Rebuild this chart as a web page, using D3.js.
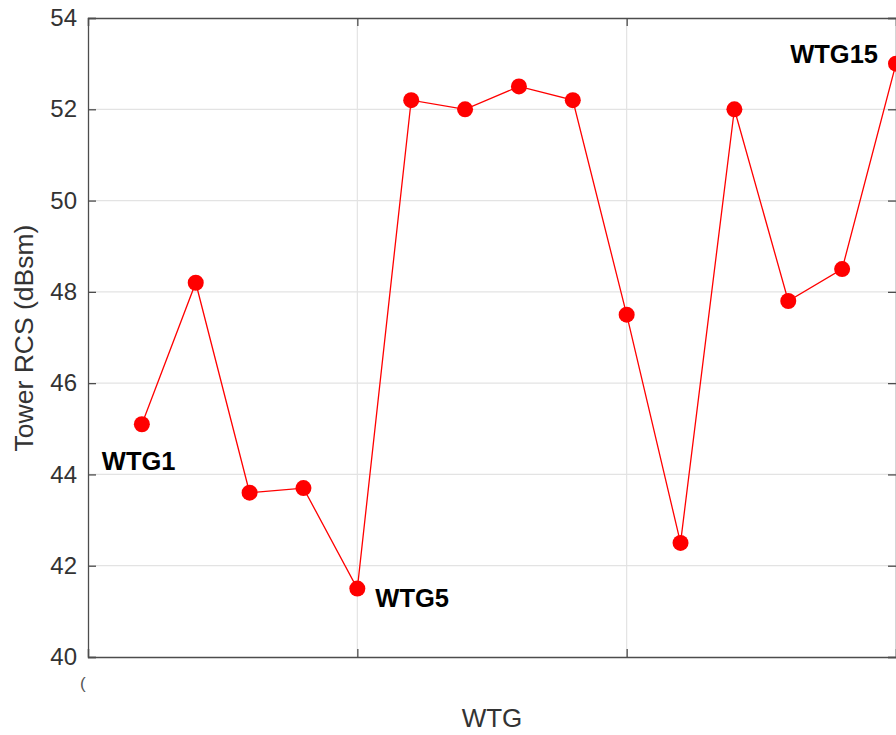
<!DOCTYPE html>
<html>
<head>
<meta charset="utf-8">
<script src="https://cdn.jsdelivr.net/npm/d3@7"></script>
<style>
  html, body { margin: 0; padding: 0; background: #fff; overflow: hidden; }
  text { font-family: "Liberation Sans", Arial, Helvetica, sans-serif; }
</style>
</head>
<body>
<svg id="chart" width="896" height="735"></svg>
<script>
// ---- data ----
const wtgIndex = [1, 2, 3, 4, 5, 6, 7, 8, 9, 10, 11, 12, 13, 14, 15];
const towerRCS = [45.1, 48.2, 43.6, 43.7, 41.5, 52.2, 52.0, 52.5, 52.2, 47.5, 42.5, 52.0, 47.8, 48.5, 53.0];
const yTicks = [40, 42, 44, 46, 48, 50, 52, 54];
const xTicks = [0, 5, 10, 15];
const annotations = [
  { idx: 1, label: "WTG1", dx: -40, dy: 46, anchor: "start" },
  { idx: 5, label: "WTG5", dx: 18, dy: 18, anchor: "start" },
  { idx: 15, label: "WTG15", dx: -18, dy: -1, anchor: "end" }
];

// ---- layout ----
const svg = d3.select("#chart");
const mLeft = 88, mRight = 896, mTop = 18, mBottom = 657;

const x = d3.scaleLinear().domain([0, 15]).range([mLeft, mRight]);
const y = d3.scaleLinear().domain([40, 54]).range([mBottom, mTop]);

// grid
const grid = svg.append("g");
grid.selectAll("line.gy").data(yTicks.slice(1, -1)).join("line")
  .attr("x1", mLeft).attr("x2", mRight)
  .attr("y1", d => y(d)).attr("y2", d => y(d))
  .attr("stroke", "#e3e3e3").attr("stroke-width", 1.2);
grid.selectAll("line.gx").data(xTicks.slice(1)).join("line")
  .attr("x1", d => x(d)).attr("x2", d => x(d))
  .attr("y1", mTop).attr("y2", mBottom)
  .attr("stroke", "#e3e3e3").attr("stroke-width", 1.2);

// axes
const axisColor = "#4d4d4d";
const yAxis = svg.append("g").attr("transform", `translate(${mLeft},0)`)
  .call(d3.axisLeft(y).tickValues(yTicks).tickSize(-8).tickPadding(11).tickFormat(d3.format("d")));
const yAxisR = svg.append("g").attr("transform", `translate(${mRight},0)`)
  .call(d3.axisRight(y).tickValues(yTicks).tickSize(-8).tickFormat(""));
const xAxis = svg.append("g").attr("transform", `translate(0,${mBottom})`)
  .call(d3.axisBottom(x).tickValues(xTicks).tickSize(-8).tickFormat(""));
const xAxisT = svg.append("g").attr("transform", `translate(0,${mTop})`)
  .call(d3.axisTop(x).tickValues(xTicks).tickSize(-8).tickFormat(""));

[yAxis, yAxisR, xAxis, xAxisT].forEach(g => {
  g.select(".domain").attr("stroke", axisColor).attr("stroke-width", 1.3);
  g.selectAll(".tick line").attr("stroke", axisColor).attr("stroke-width", 1.3);
});
yAxis.selectAll(".tick text")
  .attr("font-size", 24).attr("fill", "#333")
  .style("font-family", "'Liberation Sans', Arial, sans-serif");

// clipped partial tick label remnant
svg.append("text").attr("x", 80).attr("y", 689)
  .attr("font-size", 17).attr("fill", "#555").text("(");

// axis labels
svg.append("text")
  .attr("transform", `translate(33,338) rotate(-90)`)
  .attr("text-anchor", "middle").attr("font-size", 26.5).attr("fill", "#333")
  .text("Tower RCS (dBsm)");
svg.append("text")
  .attr("x", 492).attr("y", 727)
  .attr("text-anchor", "middle").attr("font-size", 26).attr("fill", "#333")
  .text("WTG");

// series
const data = wtgIndex.map((d, i) => ({ i: d, v: towerRCS[i] }));
svg.append("path").datum(data)
  .attr("fill", "none").attr("stroke", "#ff0000").attr("stroke-width", 1.3)
  .attr("d", d3.line().x(d => x(d.i)).y(d => y(d.v)));
svg.selectAll("circle.pt").data(data).join("circle")
  .attr("class", "pt")
  .attr("cx", d => x(d.i)).attr("cy", d => y(d.v))
  .attr("r", 8).attr("fill", "#ff0000");

// annotations
svg.selectAll("text.ann").data(annotations).join("text")
  .attr("class", "ann")
  .attr("x", d => x(d.idx) + d.dx)
  .attr("y", d => y(towerRCS[d.idx - 1]) + d.dy)
  .attr("text-anchor", d => d.anchor)
  .attr("font-size", 25.5).attr("font-weight", "bold").attr("fill", "#000")
  .text(d => d.label);
</script>
</body>
</html>
